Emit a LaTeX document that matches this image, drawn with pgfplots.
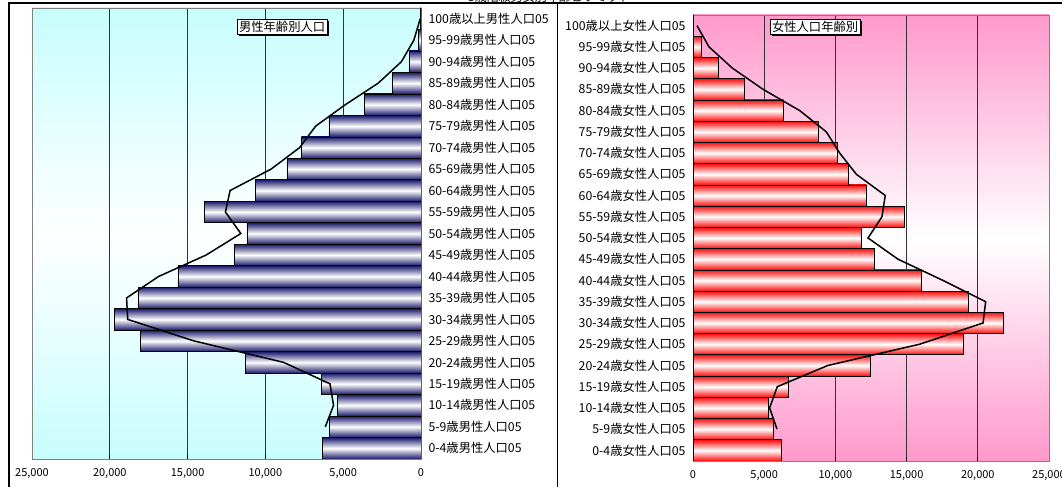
\documentclass[border=0pt]{standalone}
\usepackage{fontspec}
\setmainfont{Noto Sans CJK JP}
\usepackage{pgfplots}
\usepackage{pgfplotstable}
\pgfplotsset{compat=1.18}
\usetikzlibrary{shadows}
\definecolor{navybar}{HTML}{18186A}
\definecolor{redbar}{HTML}{FF0A0A}
\definecolor{cyanbg}{HTML}{C8FDFD}
\definecolor{pinkbg}{HTML}{FF99CC}
\definecolor{framegray}{HTML}{808080}

% idx: 0 = 0-4 ... 20 = 100+
\pgfplotstableread{
idx male female
0  6350  6180
1  5870  5620
2  5390  5290
3  6380  6670
4  11260 12480
5  18050 18960
6  19680 21820
7  18170 19310
8  15620 16060
9  12000 12710
10 11190 11820
11 13940 14820
12 10620 12200
13 8620  10880
14 7680  10140
15 5920  8800
16 3650  6370
17 1810  3630
18 760   1760
19 180   560
20 30    40
}\bars

\pgfplotstableread{
idx male female
1  6150  5900
2  5620  5380
3  5850  5920
4  8830  9480
5  14600 15920
6  18850 20370
7  18920 20550
8  16860 17560
9  13800 14400
10 11580 12290
11 12570 13270
12 12270 13500
13 9630  11470
14 7800  10300
15 6770  9360
16 4860  7490
17 2750  4920
18 1260  2760
19 460   1120
20 50    280
}\lines

\pgfplotsset{
  pyr/.style={
    scale only axis,
    xmin=0, xmax=25000,
    ymin=-0.5, ymax=20.5,
    xtick={0,5000,10000,15000,20000,25000},
    ytick={0,...,20},
    scaled x ticks=false,
    /pgf/number format/assume math mode=true,
    /pgf/number format/1000 sep={,},
    xticklabel style={font=\fontsize{11}{12}\selectfont, yshift=-6pt},
    yticklabel style={font=\fontsize{12.3}{13}\selectfont},
    xmajorgrids,
    major grid style={black!80, line width=0.8pt},
    axis line style={framegray, line width=0.7pt},
    xtick pos=bottom,
    tick align=inside,
    major tick length=4pt,
    ytick style={draw=none},
    x tick style={black, line width=0.7pt},
  }
}

\begin{document}
\begin{tikzpicture}
\useasboundingbox (0pt,0pt) rectangle (1062pt,487pt);
% panel borders
\draw[black, line width=1.2pt] (9pt,0pt) -- (9pt,484pt) -- (1062pt,484pt);
\draw[black, line width=1.4pt] (557.5pt,0pt) -- (557.5pt,484pt);
\node[anchor=base west, inner sep=0pt, font=\fontsize{12}{12}\selectfont] at (468pt,485.5pt) {5歳階級男女別年齢ピラミッド};

% ---------------- male ----------------
\begin{axis}[pyr,
  at={(32pt,28pt)}, anchor=south west,
  width=389pt, height=451pt,
  x dir=reverse,
  yticklabel pos=right,
  yticklabel style={anchor=west, xshift=4pt},
  yticklabels={0-4歳男性人口05,5-9歳男性人口05,10-14歳男性人口05,15-19歳男性人口05,20-24歳男性人口05,25-29歳男性人口05,30-34歳男性人口05,35-39歳男性人口05,40-44歳男性人口05,45-49歳男性人口05,50-54歳男性人口05,55-59歳男性人口05,60-64歳男性人口05,65-69歳男性人口05,70-74歳男性人口05,75-79歳男性人口05,80-84歳男性人口05,85-89歳男性人口05,90-94歳男性人口05,95-99歳男性人口05,100歳以上男性人口05},
  axis background/.style={shade, top color=cyanbg, bottom color=cyanbg, middle color=white},
]
\pgfplotsinvokeforeach{0,...,20}{
  \addplot[xbar, bar width=1, draw=black, line width=0.7pt,
    top color=navybar, bottom color=navybar, middle color=white,
    restrict expr to domain={\coordindex}{#1:#1}]
    table[x=male, y=idx] {\bars};
}
\addplot[black, line width=1.5pt, sharp plot, no marks] table[x=male, y=idx] {\lines};
\draw[black, line width=0.9pt] (axis cs:0,-0.5) -- (axis cs:0,20.5);
\draw[black, line width=0.9pt] (axis cs:0,-0.5) -- (axis cs:25000,-0.5);
\node[draw=black, fill=white, drop shadow={shadow xshift=2pt, shadow yshift=-2pt, fill=black, opacity=1},
  inner sep=2pt, font=\fontsize{12.3}{13}\selectfont]
  at (axis description cs:0.643,0.959) {男性年齢別人口};
\end{axis}

% ---------------- female ----------------
\begin{axis}[pyr,
  at={(693pt,26pt)}, anchor=south west,
  width=356pt, height=446pt,
  yticklabel style={anchor=east, xshift=-4pt},
  yticklabels={0-4歳女性人口05,5-9歳女性人口05,10-14歳女性人口05,15-19歳女性人口05,20-24歳女性人口05,25-29歳女性人口05,30-34歳女性人口05,35-39歳女性人口05,40-44歳女性人口05,45-49歳女性人口05,50-54歳女性人口05,55-59歳女性人口05,60-64歳女性人口05,65-69歳女性人口05,70-74歳女性人口05,75-79歳女性人口05,80-84歳女性人口05,85-89歳女性人口05,90-94歳女性人口05,95-99歳女性人口05,100歳以上女性人口05},
  axis background/.style={shade, top color=pinkbg, bottom color=pinkbg, middle color=white},
]
\pgfplotsinvokeforeach{0,...,20}{
  \addplot[xbar, bar width=1, draw=black, line width=0.7pt,
    top color=redbar, bottom color=redbar, middle color=white,
    restrict expr to domain={\coordindex}{#1:#1}]
    table[x=female, y=idx] {\bars};
}
\addplot[black, line width=1.5pt, sharp plot, no marks] table[x=female, y=idx] {\lines};
\draw[black, line width=0.9pt] (axis cs:0,-0.5) -- (axis cs:0,20.5);
\draw[black, line width=0.9pt] (axis cs:0,-0.5) -- (axis cs:25000,-0.5);
\node[draw=black, fill=white, drop shadow={shadow xshift=2pt, shadow yshift=-2pt, fill=black, opacity=1},
  inner sep=2pt, font=\fontsize{12.3}{13}\selectfont]
  at (axis description cs:0.343,0.974) {女性人口年齢別};
\end{axis}
\end{tikzpicture}
\end{document}
